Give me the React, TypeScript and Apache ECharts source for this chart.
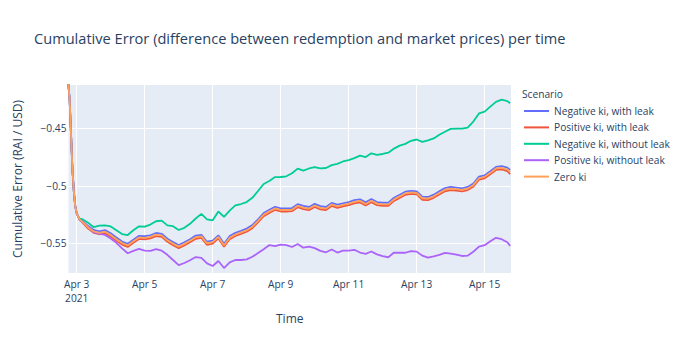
import React, { useEffect, useRef } from "react";
import * as echarts from "echarts";

// hours relative to Apr 3 2021 00:00
const hours = [
  -6, -5, -4, -3, -2, -1, 0, 2, 4, 8, 12, 16, 20, 24, 28, 32, 36, 40, 44, 48, 52, 56, 60, 64, 68, 72, 76, 80,
  84, 88, 92, 96, 100, 104, 108, 112, 116, 120, 124, 128, 132, 136, 140, 144, 148, 152, 156, 160, 164, 168,
  172, 176, 180, 184, 188, 192, 196, 200, 204, 208, 212, 216, 220, 224, 228, 232, 236, 240, 244, 248, 252,
  256, 260, 264, 268, 272, 276, 280, 284, 288, 292, 296, 300, 304, 306,
];

const negWithLeak = [
  -0.41, -0.425, -0.4558, -0.4863, -0.5054, -0.518, -0.524, -0.5291,
  -0.5306, -0.535, -0.5384, -0.5395, -0.5385, -0.5413, -0.545, -0.5484, -0.5504, -0.5468, -0.5435, -0.5438,
  -0.543, -0.541, -0.5417, -0.546, -0.5489, -0.5515, -0.5491, -0.5464, -0.5433, -0.5426, -0.5486, -0.5476,
  -0.543, -0.5503, -0.5437, -0.5409, -0.5391, -0.5372, -0.5341, -0.5291, -0.5237, -0.5208, -0.5183, -0.5196,
  -0.5196, -0.5193, -0.5159, -0.5175, -0.5184, -0.5157, -0.5177, -0.5184, -0.5148, -0.5164, -0.5152, -0.5141,
  -0.5125, -0.5117, -0.5144, -0.5115, -0.5141, -0.5147, -0.5147, -0.5104, -0.5078, -0.5051, -0.5043, -0.5048,
  -0.5094, -0.5097, -0.5077, -0.5048, -0.502, -0.501, -0.5015, -0.5022, -0.501, -0.498, -0.492, -0.4908,
  -0.4873, -0.4835, -0.4828, -0.4842, -0.4862,
];

const posWithLeak = [
  -0.41, -0.425, -0.4558, -0.4863, -0.5054, -0.518, -0.524, -0.5294,
  -0.5318, -0.5372, -0.5408, -0.5421, -0.5411, -0.544, -0.5477, -0.5511, -0.5531, -0.5495, -0.5462, -0.5465,
  -0.5457, -0.5437, -0.5444, -0.5487, -0.5516, -0.5542, -0.5518, -0.5491, -0.546, -0.5453, -0.5513, -0.5503,
  -0.5457, -0.553, -0.5464, -0.5436, -0.5418, -0.5399, -0.5368, -0.5318, -0.5264, -0.5235, -0.521, -0.5223,
  -0.5223, -0.522, -0.5186, -0.5202, -0.5211, -0.5184, -0.5204, -0.5211, -0.5175, -0.5191, -0.5179, -0.5168,
  -0.5152, -0.5144, -0.5171, -0.5142, -0.5168, -0.5174, -0.5174, -0.5131, -0.5105, -0.5078, -0.507, -0.5075,
  -0.5121, -0.5124, -0.5104, -0.5075, -0.5047, -0.5037, -0.5042, -0.5049, -0.5037, -0.5007, -0.4947, -0.4935,
  -0.49, -0.4862, -0.4857, -0.4872, -0.4898,
];

const negWithoutLeak = [
  -0.41, -0.425, -0.4558, -0.4863, -0.5054, -0.518, -0.524, -0.5286,
  -0.529, -0.5321, -0.536, -0.5346, -0.5343, -0.5353, -0.5386, -0.5419, -0.5428, -0.5386, -0.5352, -0.5355,
  -0.5337, -0.5308, -0.5303, -0.5344, -0.5351, -0.5384, -0.5365, -0.533, -0.5284, -0.5244, -0.5291, -0.53,
  -0.5223, -0.527, -0.5216, -0.517, -0.5158, -0.5141, -0.5104, -0.5045, -0.4984, -0.4958, -0.4924, -0.4923,
  -0.4917, -0.4891, -0.485, -0.4867, -0.4849, -0.4837, -0.4848, -0.4845, -0.482, -0.4809, -0.4788, -0.4776,
  -0.4759, -0.4737, -0.475, -0.4717, -0.473, -0.4723, -0.4712, -0.4676, -0.465, -0.4635, -0.4608, -0.4597,
  -0.4617, -0.4605, -0.4588, -0.4556, -0.453, -0.4505, -0.4503, -0.4503, -0.4493, -0.4441, -0.437, -0.4354,
  -0.4311, -0.427, -0.425, -0.4263, -0.4282,
];

const posWithoutLeak = [
  -0.41, -0.425, -0.4558, -0.4863, -0.5054, -0.518, -0.524, -0.5297,
  -0.5315, -0.5352, -0.5405, -0.5415, -0.5427, -0.5458, -0.5496, -0.5544, -0.5586, -0.5566, -0.5548, -0.5563,
  -0.5566, -0.5551, -0.5564, -0.56, -0.5645, -0.5689, -0.5671, -0.5647, -0.5619, -0.5626, -0.5674, -0.5697,
  -0.5654, -0.5715, -0.5666, -0.5645, -0.5645, -0.564, -0.5617, -0.5585, -0.5551, -0.5515, -0.5524, -0.5512,
  -0.5515, -0.5532, -0.5506, -0.5538, -0.5529, -0.5542, -0.5566, -0.5578, -0.5554, -0.558, -0.5564, -0.5564,
  -0.5556, -0.558, -0.5591, -0.5571, -0.5596, -0.5611, -0.5621, -0.558, -0.5582, -0.5582, -0.5567, -0.5572,
  -0.5607, -0.5625, -0.5613, -0.56, -0.5583, -0.559, -0.5599, -0.561, -0.5607, -0.5573, -0.5529, -0.5516,
  -0.5482, -0.5452, -0.5464, -0.549, -0.5522,
];

const zeroKi = [
  -0.41, -0.425, -0.4558, -0.4863, -0.5054, -0.518, -0.524, -0.5292,
  -0.5312, -0.5362, -0.5397, -0.5409, -0.5399, -0.5427, -0.5464, -0.5498, -0.5518, -0.5482, -0.5449, -0.5452,
  -0.5444, -0.5424, -0.5431, -0.5474, -0.5503, -0.5529, -0.5505, -0.5478, -0.5447, -0.544, -0.55, -0.549,
  -0.5444, -0.5517, -0.5451, -0.5423, -0.5405, -0.5386, -0.5355, -0.5305, -0.5251, -0.5222, -0.5197, -0.521,
  -0.521, -0.5207, -0.5173, -0.5189, -0.5198, -0.5171, -0.5191, -0.5198, -0.5162, -0.5178, -0.5166, -0.5155,
  -0.5139, -0.5131, -0.5158, -0.5129, -0.5155, -0.5161, -0.5161, -0.5118, -0.5092, -0.5065, -0.5057, -0.5062,
  -0.5108, -0.5111, -0.5091, -0.5062, -0.5034, -0.5024, -0.5029, -0.5036, -0.5024, -0.4994, -0.4934, -0.4922,
  -0.4887, -0.4849, -0.4843, -0.4857, -0.488,
];

const seriesNames = [
  "Negative ki, with leak",
  "Positive ki, with leak",
  "Negative ki, without leak",
  "Positive ki, without leak",
  "Zero ki",
];
const seriesColors = ["#636EFA", "#EF553B", "#00CC96", "#AB63FA", "#FFA15A"];
const seriesValues = [negWithLeak, posWithLeak, negWithoutLeak, posWithoutLeak, zeroKi];

const xTickHours = [0, 48, 96, 144, 192, 240, 288];
const xTickLabels = ["Apr 3\n2021", "Apr 5", "Apr 7", "Apr 9", "Apr 11", "Apr 13", "Apr 15"];
const yTickValues = [-0.55, -0.5, -0.45];
const yTickLabels = ["\u22120.55", "\u22120.5", "\u22120.45"];

const FONT = "'Open Sans', 'Noto Sans', sans-serif";
const TXT = "#2a3f5f";

export default function App() {
  const ref = useRef<HTMLDivElement>(null);
  useEffect(() => {
    document.body.style.margin = "0";
    const chart = echarts.init(ref.current!, null, { renderer: "svg" });
    chart.setOption({
      animation: false,
      backgroundColor: "#ffffff",
      textStyle: { fontFamily: FONT },
      title: {
        text: "Cumulative Error (difference between redemption and market prices) per time",
        left: 34,
        top: 29,
        padding: 0,
        textStyle: { fontFamily: FONT, fontSize: 14.6, fontWeight: "normal", color: TXT, lineHeight: 18 },
      },
      graphic: [
        {
          type: "text",
          left: 522,
          top: 89,
          style: { text: "Scenario", fontFamily: FONT, fontSize: 10.2, fill: TXT },
        },
      ],
      legend: {
        orient: "vertical",
        left: 524,
        top: 104,
        icon: "rect",
        itemWidth: 25,
        itemHeight: 2,
        itemGap: 2.4,
        padding: 0,
        data: seriesNames,
        textStyle: { fontFamily: FONT, fontSize: 10.2, color: TXT, lineHeight: 14 },
      },
      grid: {
        left: 68.5,
        right: 175,
        top: 85,
        bottom: 70,
        show: true,
        backgroundColor: "#E5ECF6",
        borderWidth: 0,
      },
      xAxis: {
        type: "value",
        min: -5.8,
        max: 306.6,
        name: "Time",
        nameLocation: "middle",
        nameGap: 39,
        nameTextStyle: { fontFamily: FONT, fontSize: 12, color: TXT },
        axisLine: { show: false },
        axisTick: { show: false, customValues: xTickHours },
        axisLabel: {
          customValues: xTickHours,
          margin: 4,
          fontFamily: FONT,
          fontSize: 10.2,
          color: TXT,
          lineHeight: 14,
          formatter: (v: number) => xTickLabels[xTickHours.indexOf(Math.round(v))] ?? "",
        },
        splitLine: { show: true, lineStyle: { color: "#ffffff", width: 1 } },
      },
      yAxis: {
        type: "value",
        min: -0.5758,
        max: -0.4123,
        name: "Cumulative Error (RAI / USD)",
        nameLocation: "middle",
        nameGap: 45,
        nameTextStyle: { fontFamily: FONT, fontSize: 12, color: TXT },
        axisLine: { show: false },
        axisTick: { show: false, customValues: yTickValues },
        axisLabel: {
          customValues: yTickValues,
          margin: 2,
          fontFamily: FONT,
          fontSize: 10.2,
          color: TXT,
          formatter: (v: number) => {
            const i = yTickValues.findIndex((t) => Math.abs(t - v) < 1e-6);
            return i >= 0 ? yTickLabels[i] : "";
          },
        },
        splitLine: { show: true, lineStyle: { color: "#ffffff", width: 1 } },
      },
      series: seriesNames.map((name, i) => ({
        name,
        type: "line",
        symbol: "none",
        showSymbol: false,
        clip: true,
        z: 2 + i,
        color: seriesColors[i],
        lineStyle: { width: 1.8, color: seriesColors[i] },
        data: hours.map((h, j) => [h, seriesValues[i][j]]),
      })),
    });
    return () => chart.dispose();
  }, []);
  return <div ref={ref} style={{ width: 686, height: 343 }} />;
}
